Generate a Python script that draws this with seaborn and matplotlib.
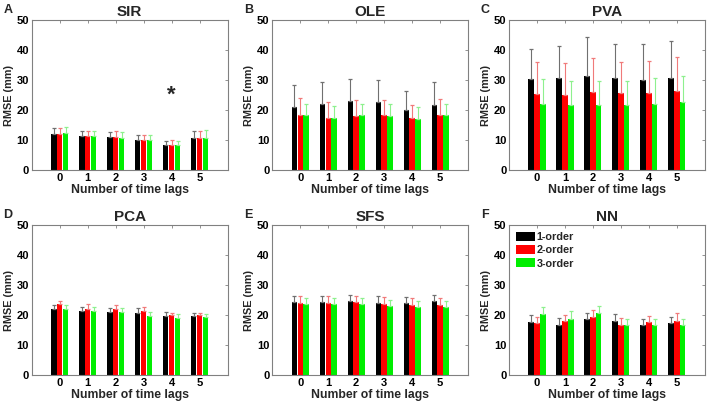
import numpy as np
import pandas as pd
import matplotlib
matplotlib.use("Agg")
import matplotlib.pyplot as plt
import seaborn as sns
from matplotlib.patches import Patch

lags = ["0", "1", "2", "3", "4", "5"]
orders = ["1-order", "2-order", "3-order"]
titles = ["SIR", "OLE", "PVA", "PCA", "SFS", "NN"]
letters = ["A", "B", "C", "D", "E", "F"]

# means per method: rows = order (1,2,3), cols = lag 0..5
sir_mean = [[12.1, 11.3, 10.9, 9.9, 8.4, 10.8],
            [12.1, 11.3, 10.9, 9.9, 8.4, 10.6],
            [12.3, 11.2, 10.7, 10.1, 8.4, 10.8]]
sir_top = [[14.0, 13.1, 12.7, 11.7, 9.7, 13.0],
           [14.0, 13.1, 12.9, 11.6, 9.9, 13.0],
           [14.2, 13.0, 12.7, 11.7, 9.7, 13.3]]
ole_mean = [[21.0, 22.2, 23.2, 22.8, 20.0, 21.6],
            [18.4, 17.5, 18.1, 18.4, 17.4, 18.4],
            [18.2, 17.5, 18.4, 18.1, 17.0, 18.4]]
ole_top = [[28.5, 29.5, 30.3, 29.9, 26.5, 29.3],
           [24.1, 22.6, 23.3, 23.3, 21.6, 23.8],
           [22.2, 21.3, 22.0, 22.0, 21.0, 22.0]]
pva_mean = [[30.3, 30.6, 31.4, 30.6, 30.1, 30.8],
            [25.4, 25.2, 26.2, 25.7, 25.7, 26.4],
            [22.2, 21.7, 21.7, 21.7, 22.0, 22.7]]
pva_top = [[40.5, 41.5, 44.3, 42.1, 41.9, 42.9],
           [36.0, 35.7, 37.3, 36.0, 36.4, 37.7],
           [30.4, 29.7, 29.8, 29.8, 30.6, 31.3]]
pca_mean = [[22.2, 21.4, 21.2, 20.8, 19.8, 19.6],
            [23.6, 22.2, 22.0, 21.5, 20.1, 20.0],
            [22.0, 21.3, 21.0, 19.7, 19.1, 19.4]]
pca_top = [[23.3, 22.6, 22.3, 22.3, 21.0, 20.8],
           [24.6, 23.6, 23.3, 22.6, 20.9, 20.6],
           [23.3, 22.6, 22.3, 21.0, 20.3, 20.3]]
sfs_mean = [[24.3, 24.3, 24.6, 24.1, 24.1, 24.6],
            [24.1, 24.2, 24.4, 23.8, 23.4, 23.4],
            [23.7, 23.7, 23.8, 23.1, 22.9, 22.7]]
sfs_top = [[26.5, 26.3, 26.6, 26.3, 26.0, 26.6],
           [26.3, 26.3, 26.5, 26.0, 25.6, 25.6],
           [25.7, 25.9, 25.9, 25.2, 24.9, 24.9]]
nn_mean = [[17.9, 16.9, 18.7, 18.0, 16.6, 17.3],
           [17.4, 18.0, 19.3, 16.7, 17.6, 18.0],
           [20.4, 18.7, 20.7, 16.7, 16.8, 16.8]]
nn_top = [[20.2, 19.2, 20.9, 20.4, 18.9, 19.3],
          [19.4, 20.0, 21.9, 19.0, 19.8, 20.9],
          [22.9, 21.3, 23.0, 18.6, 18.9, 18.9]]

means = [sir_mean, ole_mean, pva_mean, pca_mean, sfs_mean, nn_mean]
tops = [sir_top, ole_top, pva_top, pca_top, sfs_top, nn_top]

bar_colors = ["#000000", "#ff0000", "#00ee00"]
err_colors = ["#707070", "#f07a7a", "#8ef08e"]

sns.set_theme(style="white")
plt.rcParams["font.family"] = ["Liberation Sans", "DejaVu Sans"]
plt.rcParams["font.weight"] = "bold"

fig = plt.figure(figsize=(7.07, 4.03), dpi=100)
lefts = [0.045, 0.385, 0.720]
bottoms = [0.578, 0.069]
w, h = 0.277, 0.372

for i in range(6):
    r, c = divmod(i, 3)
    ax = fig.add_axes([lefts[c], bottoms[r], w, h])
    rows = []
    for k, o in enumerate(orders):
        for j, lg in enumerate(lags):
            rows.append({"lag": lg, "order": o, "rmse": means[i][k][j],
                         "top": tops[i][k][j]})
    df = pd.DataFrame(rows)
    sns.barplot(data=df, x="lag", y="rmse", hue="order", hue_order=orders,
                order=lags, palette=bar_colors, width=0.63, gap=0.1,
                errorbar=None, saturation=1, linewidth=0, ax=ax, legend=False)
    # error bars (upper only) from bar positions
    for k, o in enumerate(orders):
        cont = ax.containers[k]
        xs = [p.get_x() + p.get_width() / 2 for p in cont.patches]
        sub = df[df["order"] == o].set_index("lag").loc[lags]
        ys = sub["rmse"].values
        up = sub["top"].values - ys
        ax.errorbar(xs, ys, yerr=[np.zeros_like(up), up], fmt="none",
                    ecolor=err_colors[k], elinewidth=0.8, capsize=1.5,
                    capthick=0.9, zorder=1)
    ax.set_xlim(-1, 6)
    ax.set_ylim(0, 50)
    ax.set_yticks([0, 10, 20, 30, 40, 50])
    ax.set_xlabel("Number of time lags", fontsize=8.8, fontweight="bold", labelpad=1)
    ax.set_ylabel("RMSE (mm)", fontsize=7.8, fontweight="bold", labelpad=2)
    ax.set_title(titles[i], fontsize=11, fontweight="bold", pad=3)
    ax.tick_params(axis="both", direction="in", length=2.5, width=0.6,
                   colors="#808080", labelcolor="black", labelsize=8,
                   top=True, right=True, pad=2)
    for lab in ax.get_xticklabels() + ax.get_yticklabels():
        lab.set_fontweight("bold")
    for sp in ax.spines.values():
        sp.set_color("#808080")
        sp.set_linewidth(0.8)
    ax.set_facecolor("white")
    fig.text(lefts[c] - 0.04, bottoms[r] + h + 0.025, letters[i],
             fontsize=9, fontweight="bold", ha="left", va="center")
    if i == 0:
        ax.text(4, 24.8, "*", fontsize=16, fontweight="bold", ha="center", va="center")
    if i == 5:
        handles = [Patch(facecolor=bar_colors[k], edgecolor="none", label=orders[k])
                   for k in range(3)]
        ax.legend(handles=handles, loc="upper left", frameon=False,
                  borderaxespad=0.3, handlelength=1.8, handleheight=0.9,
                  handletextpad=0.15, labelspacing=0.28, borderpad=0.3,
                  prop={"weight": "bold", "size": 7.8})

fig.savefig("out.png", dpi=100, facecolor="white")
